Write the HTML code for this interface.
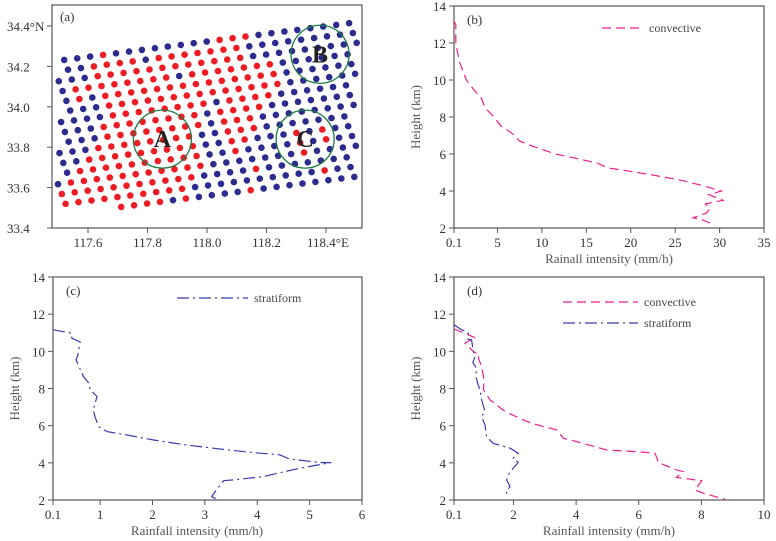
<!DOCTYPE html>
<html><head><meta charset="utf-8"><style>
body{margin:0;background:#fff}
svg{display:block;font-family:"Liberation Serif",serif}
</style></head><body>
<svg id="fig" width="776" height="541" viewBox="0 0 776 541" xmlns="http://www.w3.org/2000/svg"></svg>
<script>
// ---------- Panel (a) map data ----------
const gridOriginLon = 117.520, gridOriginLat = 34.232;
const colStepLon = 0.04353, colStepLat = 0.00827;
const rowStepLon = 0.01277, rowStepLat = -0.04851;
const rowStart = [0,0,-1,-1,-1,-1,-2,-2,-2,-3,-3,-3,-4,-4,-4,-4];
const rowColors = [
"bbbrbbbbbbbbrrrbbbbbbbb",
"bbrrrrbrrrrrrrbbbbbbbbb",
"bbbrrrrrrrrrrrrbbbbbbbbb",
"brrrrrrrrbrrrrrrrbbbbbb",
"brbrrrrrrrrrrrrrrbbbbbb",
"bbbrrrrrrrrrrrrrrbbbbbb",
"bbbbrrrrrrrrbrrrrbbbbbb",
"bbbrrrrrrrrbrrrrbbbbbbb",
"bbbrrrrrrrrbrrrbbbbbbbb",
"bbbrrrrrrrrbbrrrbbbbbbb",
"bbrrrrrrrrrbbrrbbbrbrbb",
"brrrrrrrrrrbbrbbbbrbrbb",
"brrrrrrrrrrrbbbbbbbrbbbb",
"rrrrrrrrrrrbbbbrbbbbbbb",
"rrrrrrrrrrbbbbbbbbbbrbb",
"....rrrrbrbbbbrbbbbbbbb"
];
const lonTicks = [117.6,117.8,118.0,118.2,118.4];
const latTicks = [33.4,33.6,33.8,34.0,34.2,34.4];
const circleNames = ["A","B","C"];
const circleLon = [117.85,118.38,118.33];
const circleLat = [33.84,34.26,33.84];

// ---------- Profile data ----------
const bConvX = [0.05,0.3,0.3,0.7,1.5,2.3,3.2,3.6,4.6,5.4,6.4,6.9,7.5,8.5,10.3,11.5,14.5,16.3,17.4,19.5,22,25.5,28,30.2,28.8,30.4,28.4,28.9,28.5,27,28,29.3];
const bConvY = [13.2,13,12,11,10,9.5,9,8.5,8,7.5,7.2,7,6.7,6.5,6.2,6,5.7,5.5,5.25,5.1,4.9,4.6,4.3,4.0,3.8,3.5,3.3,3.05,2.8,2.55,2.45,2.2];
const cStrX = [0.1,0.45,0.46,0.62,0.57,0.54,0.68,0.78,0.81,0.94,0.87,0.9,0.97,1.13,1.51,2.02,2.65,3.41,3.92,4.43,4.62,5.22,5.41,4.81,4.11,3.54,3.36,3.22,3.16,3.13,3.27];
const cStrY = [11.16,10.98,10.7,10.5,9.75,9.55,8.65,8.3,7.93,7.57,6.85,6.5,5.95,5.68,5.5,5.23,4.96,4.7,4.55,4.43,4.2,4.01,4.01,3.71,3.26,3.08,3.04,2.54,2.32,2.18,2.0];
const dConvX = [0.1,0.56,0.8,0.61,0.45,0.72,0.91,0.88,0.98,1.06,1.04,1.25,1.73,2.31,2.63,3.38,3.59,4.02,4.98,5.93,6.52,6.63,7.21,7.42,7.2,7.8,8.01,7.8,8.1,8.75];
const dConvY = [11.2,10.89,10.71,10.59,10.44,9.99,9.81,9.63,9.19,8.47,7.93,7.39,6.76,6.31,6.1,5.77,5.32,5.14,4.69,4.6,4.52,4.01,3.62,3.53,3.22,3.08,3.04,2.54,2.35,2.04];
const dStrX = [0.1,0.3,0.56,0.54,0.66,0.72,0.77,0.7,0.82,0.8,0.87,0.93,0.98,1.09,0.98,1.09,1.14,1.35,1.89,2.15,1.99,2.15,1.99,1.85,1.78,1.89,1.76,1.83];
const dStrY = [11.43,11.2,10.98,10.66,10.62,10.0,9.72,9.4,9.1,8.65,8.2,7.93,7.39,6.76,6.5,6.04,5.41,5.05,4.79,4.52,4.25,4.01,3.71,3.4,3.08,2.72,2.45,2.18];
const bXTicks = [0.1,5,10,15,20,25,30,35];
const bXLabels = ["0.1","5","10","15","20","25","30","35"];
const cXTicks = [0.1,1,2,3,4,5,6];
const cXLabels = ["0.1","1","2","3","4","5","6"];
const dXTicks = [0.1,2,4,6,8,10];
const dXLabels = ["0.1","2","4","6","8","10"];
const hTicks = [2,4,6,8,10,12,14];

const NS = "http://www.w3.org/2000/svg";
const svg = document.getElementById("fig");
const RED = "#ee1d25", BLUE = "#2c2c8e", PINK = "#ee1f8f", SBLUE = "#3b3bae", AX = "#555", TX = "#333";
function mk(tag, attrs, parent) {
  const e = document.createElementNS(NS, tag);
  for (const k in attrs) e.setAttribute(k, attrs[k]);
  (parent || svg).appendChild(e);
  return e;
}

// ---------- Panel (a) ----------
const gA = mk("g", {});


const aL = 52, aR = 362, aT = 5, aB = 228;
const lonX = lon => 88 + (lon - 117.6) * 297.5;
const latY = lat => 26 + (34.4 - lat) * 202;
const dotsG = mk("g", {}, gA);


rowColors.forEach((row, j) => {
  for (let k = 0; k < row.length; k++) {
    const c = row[k];
    if (c === ".") continue;
    const i = rowStart[j] + k;
    const lon = gridOriginLon + i * colStepLon + j * rowStepLon;
    const lat = gridOriginLat + i * colStepLat + j * rowStepLat;
    const d = mk("circle", {cx: lonX(lon).toFixed(1), cy: latY(lat).toFixed(1), r: 3.3, fill: c === "r" ? RED : BLUE}, dotsG);
    
    
  }
});
circleNames.forEach((n, k) => {
  const cx = lonX(circleLon[k]), cy = latY(circleLat[k]);
  const c = mk("circle", {cx: cx, cy: cy, r: 29, fill: "none", stroke: "#1f7a45", "stroke-width": 1.3}, gA);
  
  
  const t = mk("text", {x: cx, y: cy + 8, "text-anchor": "middle", "font-size": 24, "font-weight": "bold", fill: "#222"}, gA);
  t.textContent = n;
  
  
});
const fa = mk("rect", {x: aL, y: aT, width: aR - aL, height: aB - aT, fill: "none", stroke: AX, "stroke-width": 1.2}, gA);


lonTicks.forEach((v, k) => {
  const x = lonX(v);
  mk("line", {x1: x, x2: x, y1: aB, y2: aB + 5, stroke: AX}, gA);
  const t = mk("text", {x: k === lonTicks.length - 1 ? x - 19 : x, y: aB + 19, "text-anchor": k === lonTicks.length - 1 ? "start" : "middle", "font-size": 13, fill: TX}, gA);
  t.textContent = v.toFixed(1) + (k === lonTicks.length - 1 ? "°E" : "");
  
  
});
latTicks.forEach((v, k) => {
  const y = latY(v);
  mk("line", {x1: aL - 5, x2: aL, y1: y, y2: y, stroke: AX}, gA);
  const t = mk("text", {x: 7, y: y + 5, "font-size": 13, fill: TX}, gA);
  t.textContent = v.toFixed(1) + (k === latTicks.length - 1 ? "°N" : "");
  
  
});
const la = mk("text", {x: 60, y: 21, "font-size": 13, fill: TX}, gA);
la.textContent = "(a)";



// ---------- Profile panels ----------
function panel(name, L, R, T, B, xmax, xt, xl, label, xTitle, xTitleX, series, legend) {
  const g = mk("g", {});
  
  
  const sx = v => L + (v - 0.1) / (xmax - 0.1) * (R - L);
  const sy = h => B - (h - 2) / 12 * (B - T);
  const fr = mk("rect", {x: L, y: T, width: R - L, height: B - T, fill: "none", stroke: AX, "stroke-width": 1.2}, g);
  
  
  xt.forEach((v, k) => {
    const x = sx(v);
    mk("line", {x1: x, x2: x, y1: B, y2: B + 5, stroke: AX}, g);
    const t = mk("text", {x: x, y: B + 19, "text-anchor": "middle", "font-size": 13, fill: TX}, g);
    t.textContent = xl[k];
    
    
  });
  hTicks.forEach(v => {
    const y = sy(v);
    mk("line", {x1: L - 5, x2: L, y1: y, y2: y, stroke: AX}, g);
    const t = mk("text", {x: L - 8, y: y + 5, "text-anchor": "end", "font-size": 13, fill: TX}, g);
    t.textContent = v;
    
    
  });
  const xtt = mk("text", {x: xTitleX, y: B + 35, "text-anchor": "middle", "font-size": 13, fill: "#555"}, g);
  xtt.textContent = xTitle;
  
  
  const cy = (T + B) / 2;
  const ytt = mk("text", {x: L - 34, y: cy, "text-anchor": "middle", "font-size": 13, fill: "#555", transform: "rotate(-90 " + (L - 34) + " " + cy + ")"}, g);
  ytt.textContent = "Height (km)";
  
  
  const pl = mk("text", {x: L + 13, y: T + 18, "font-size": 13, fill: TX}, g);
  pl.textContent = label;
  
  
  series.forEach(s => {
    const pts = s.xs.map((v, k) => sx(v).toFixed(1) + "," + sy(s.ys[k]).toFixed(1)).join(" ");
    const p = mk("polyline", {points: pts, fill: "none", stroke: s.color, "stroke-width": 1.2, "stroke-dasharray": s.dash}, g);
    
    
  });
  legend.forEach(lg => {
    const l = mk("line", {x1: lg.x1, x2: lg.x2, y1: lg.y, y2: lg.y, stroke: lg.color, "stroke-width": 1.2, "stroke-dasharray": lg.dash}, g);
    
    
    const t = mk("text", {x: lg.x2 + 6, y: lg.y + 4, "font-size": 12, fill: "#444"}, g);
    t.textContent = lg.text;
    
    
  });
}
const DASH = "9 5", DASHDOT = "12 4 2 4";
panel("panel-b-convective", 454, 764, 6, 228, 35, bXTicks, bXLabels, "(b)", "Rainall intensity (mm/h)", 609,
  [{xs: bConvX, ys: bConvY, color: PINK, dash: DASH, name: "convective"}],
  [{x1: 602, x2: 643, y: 28, color: PINK, dash: DASH, text: "convective"}]);
panel("panel-c-stratiform", 53, 362, 277, 500, 6, cXTicks, cXLabels, "(c)", "Rainfall intensity (mm/h)", 197,
  [{xs: cStrX, ys: cStrY, color: SBLUE, dash: DASHDOT, name: "stratiform"}],
  [{x1: 177, x2: 248, y: 298, color: SBLUE, dash: DASHDOT, text: "stratiform"}]);
panel("panel-d-comparison", 454, 764, 277, 500, 10, dXTicks, dXLabels, "(d)", "Rainfall intensity (mm/h)", 609,
  [{xs: dConvX, ys: dConvY, color: PINK, dash: DASH, name: "convective"},
   {xs: dStrX, ys: dStrY, color: SBLUE, dash: DASHDOT, name: "stratiform"}],
  [{x1: 563, x2: 638, y: 302, color: PINK, dash: DASH, text: "convective"},
   {x1: 563, x2: 638, y: 323, color: SBLUE, dash: DASHDOT, text: "stratiform"}]);
</script>
</body></html>
